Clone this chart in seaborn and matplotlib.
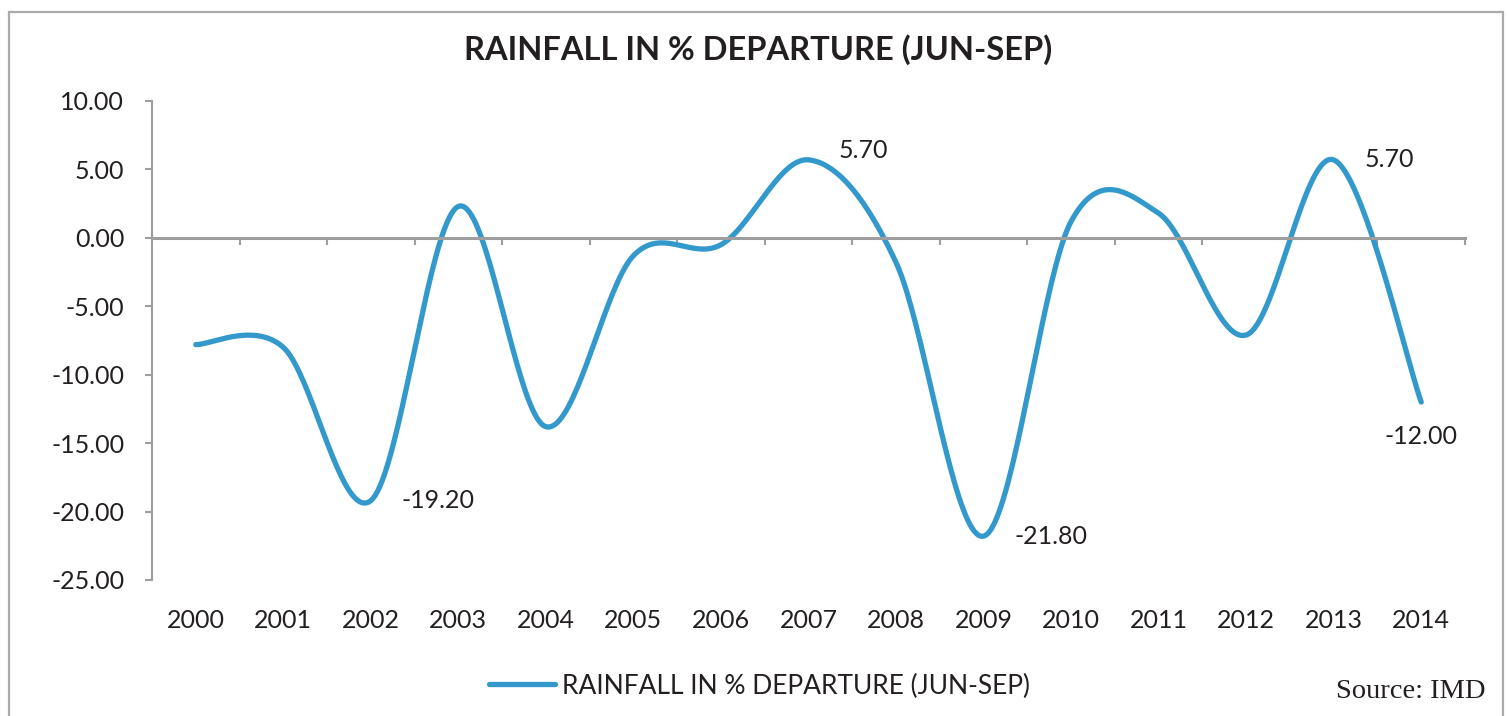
import matplotlib
matplotlib.use('Agg')

import numpy as np
import pandas as pd
import matplotlib.pyplot as plt
import seaborn as sns
from matplotlib.patches import Rectangle

# ---- data ----
years = ['2000', '2001', '2002', '2003', '2004', '2005', '2006', '2007',
         '2008', '2009', '2010', '2011', '2012', '2013', '2014']
departure = [-7.8, -8.0, -19.2, 2.3, -13.8, -1.3, -0.5, 5.7,
             -1.8, -21.8, 1.2, 1.8, -7.1, 5.7, -12.0]
labelled = {'2002': 'right', '2007': 'upright', '2009': 'right',
            '2013': 'right', '2014': 'below'}

series_name = 'RAINFALL IN % DEPARTURE (JUN-SEP)'
line_color = '#3399CC'
grey = '#9E9E9E'
text_color = '#231F20'

sns.set_style('white')
plt.rcParams['font.family'] = ['Lato', 'DejaVu Sans']


def excel_smooth(xs, ys, n=40):
    """Bezier smoothing like Excel's 'smoothed line' option."""
    pts = np.column_stack([xs, ys]).astype(float)
    padded = np.vstack([pts[0], pts, pts[-1]])
    out = []
    t = np.linspace(0, 1, n)[:, None]
    for i in range(len(pts) - 1):
        p0, p3 = padded[i + 1], padded[i + 2]
        c1 = p0 + (padded[i + 2] - padded[i]) / 6
        c2 = p3 - (padded[i + 3] - padded[i + 1]) / 6
        seg = ((1 - t) ** 3) * p0 + 3 * ((1 - t) ** 2) * t * c1 \
            + 3 * (1 - t) * t ** 2 * c2 + t ** 3 * p3
        out.append(seg if i == 0 else seg[1:])
    return np.vstack(out)


xpos = np.arange(len(years))
curve = excel_smooth(xpos, departure)
df = pd.DataFrame({'x': curve[:, 0], 'y': curve[:, 1], 'series': series_name})

fig = plt.figure(figsize=(15.07, 7.16), dpi=100)
ax = fig.add_axes([152 / 1507, 1 - 580 / 716, (1465 - 152) / 1507, (580 - 101) / 716])

sns.lineplot(data=df, x='x', y='y', hue='series', palette=[line_color],
             linewidth=3.8, sort=False, ax=ax, estimator=None)
for line in ax.lines:
    line.set_solid_capstyle('round')

ax.set_xlim(-0.5, len(years) - 0.5)
ax.set_ylim(-25, 10)
ax.set_xlabel('')
ax.set_ylabel('')

# y axis
ax.set_yticks(np.arange(-25, 10.1, 5))
ax.set_yticklabels([f'{v:.2f}' for v in np.arange(-25, 10.1, 5)])
ax.tick_params(axis='y', direction='out', length=5, width=1.5, color=grey,
               labelsize=18, labelcolor=text_color, pad=15, left=True)

# x axis line sits at zero; tick marks at category boundaries
for s in ['top', 'right']:
    ax.spines[s].set_visible(False)
ax.spines['left'].set_color(grey)
ax.spines['left'].set_linewidth(1.5)
ax.spines['bottom'].set_position(('data', 0))
ax.spines['bottom'].set_color(grey)
ax.spines['bottom'].set_linewidth(2.2)
ax.set_xticks(np.arange(0.5, len(years), 1))
ax.set_xticklabels([])
ax.tick_params(axis='x', direction='out', length=5, width=1.5, color=grey, bottom=True)

# category labels at the bottom of the plot area
sec = ax.secondary_xaxis(0)
sec.set_xticks(xpos)
sec.set_xticklabels(years)
sec.tick_params(length=0, labelsize=18, labelcolor=text_color, pad=21)
sec.spines['bottom'].set_visible(False)

# data labels
offsets = {'right': (22, 0, 'left', 'center'),
           'upright': (22, 7, 'left', 'center'),
           'below': (0, -25, 'center', 'center')}
for yr, where in labelled.items():
    i = years.index(yr)
    dx, dy, ha, va = offsets[where]
    ax.annotate(f'{departure[i]:.2f}', (i, departure[i]), xytext=(dx, dy),
                textcoords='offset points', ha=ha, va=va, fontsize=18,
                color=text_color)

# title, legend, source
fig.text(0.503, 1 - 50 / 716, series_name, ha='center', va='center',
         fontsize=23.5, fontweight='bold', color=text_color)
leg = ax.legend(loc='center', bbox_to_anchor=(0.504, 1 - 686 / 716),
                bbox_transform=fig.transFigure, frameon=False, fontsize=19,
                handlelength=2.5, handletextpad=0.25)
for t in leg.get_texts():
    t.set_color(text_color)
for h in leg.get_lines():
    h.set_linewidth(3.8)
fig.text(1485 / 1507, 1 - 692 / 716, 'Source: IMD', ha='right', va='center',
         fontsize=20.5, family='Liberation Serif', color=text_color)

fig.patches.append(Rectangle((9 / 1507, -0.05), (1503 - 9) / 1507, 1.05 - 12 / 716,
                             transform=fig.transFigure, fill=False,
                             edgecolor='#AAAAAA', linewidth=1.6))

fig.savefig('out.png', dpi=100)
